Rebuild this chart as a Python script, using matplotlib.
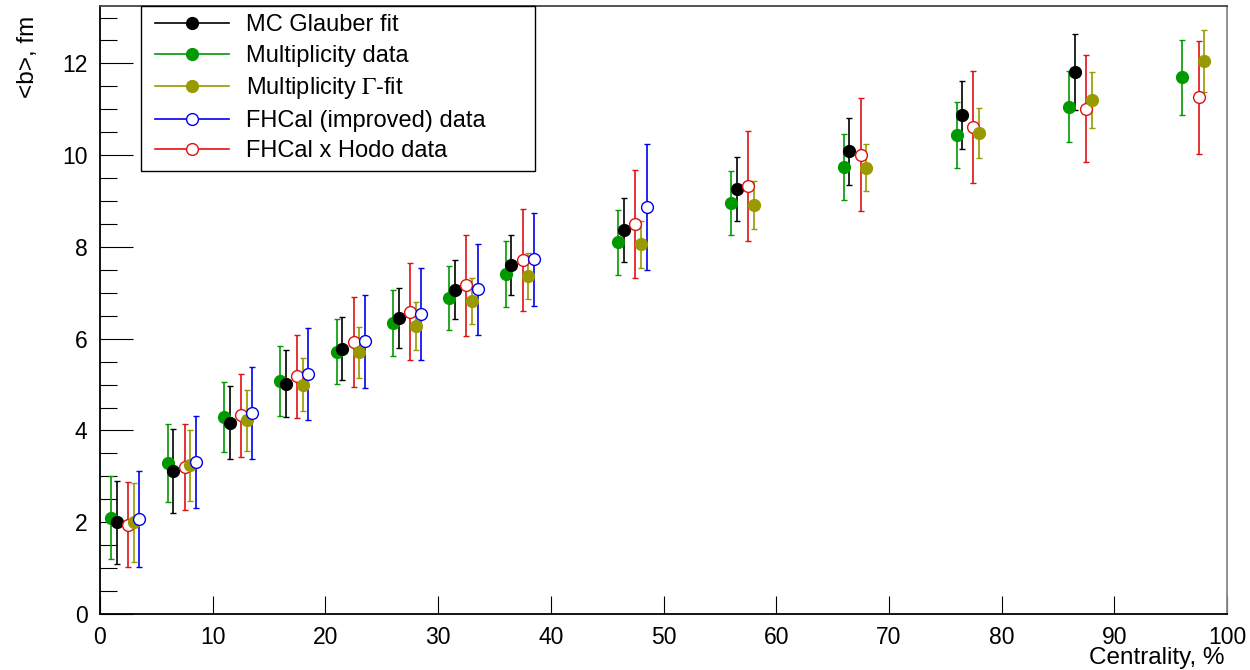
import matplotlib
matplotlib.use("Agg")
import matplotlib.pyplot as plt
from matplotlib.lines import Line2D
from matplotlib.legend_handler import HandlerLine2D
from matplotlib.ticker import MultipleLocator

plt.rcParams['font.family'] = ['Liberation Sans', 'DejaVu Sans']
plt.rcParams['mathtext.fontset'] = 'stix'

# centrality bin centres, %
cent = [2.5, 7.5, 12.5, 17.5, 22.5, 27.5, 32.5, 37.5, 47.5, 57.5, 67.5, 77.5, 87.5, 97.5]

# <b>, fm and errors for each method
glauber_b = [2.00, 3.12, 4.17, 5.02, 5.78, 6.45, 7.07, 7.61, 8.37, 9.27, 10.08, 10.88, 11.81]
glauber_err = [0.90, 0.92, 0.80, 0.73, 0.69, 0.66, 0.65, 0.66, 0.70, 0.70, 0.73, 0.74, 0.82]

mult_b = [2.10, 3.30, 4.29, 5.08, 5.72, 6.34, 6.88, 7.41, 8.10, 8.95, 9.75, 10.43, 11.06, 11.70]
mult_err = [0.90, 0.85, 0.77, 0.76, 0.71, 0.72, 0.70, 0.71, 0.71, 0.70, 0.72, 0.72, 0.77, 0.82]

gfit_b = [2.00, 3.24, 4.22, 5.00, 5.70, 6.28, 6.83, 7.36, 8.06, 8.92, 9.73, 10.48, 11.20, 12.05]
gfit_err = [0.86, 0.78, 0.66, 0.58, 0.55, 0.52, 0.50, 0.50, 0.51, 0.52, 0.52, 0.54, 0.61, 0.68]

fhcal_b = [2.07, 3.32, 4.38, 5.23, 5.94, 6.54, 7.08, 7.73, 8.87]
fhcal_err = [1.05, 1.00, 1.00, 1.00, 1.02, 1.00, 0.99, 1.02, 1.37]

hodo_b = [1.95, 3.20, 4.33, 5.18, 5.93, 6.59, 7.16, 7.72, 8.50, 9.33, 10.01, 10.62, 11.01, 11.26]
hodo_err = [0.93, 0.93, 0.90, 0.90, 0.98, 1.05, 1.10, 1.11, 1.18, 1.20, 1.23, 1.22, 1.17, 1.23]

labels = ['MC Glauber fit', 'Multiplicity data', r'Multiplicity $\Gamma$-fit',
          'FHCal (improved) data', 'FHCal x Hodo data']

# (values, errors, x shift, colour, filled) in drawing order
series = {
    'mult': (mult_b, mult_err, -1.5, '#009900', True),
    'glauber': (glauber_b, glauber_err, -1.0, 'black', True),
    'hodo': (hodo_b, hodo_err, 0.0, '#e01010', False),
    'gfit': (gfit_b, gfit_err, 0.5, '#999900', True),
    'fhcal': (fhcal_b, fhcal_err, 1.0, '#0000ee', False),
}

fig = plt.figure(figsize=(12.5, 6.7), dpi=100)
ax = fig.add_axes([0.08, 0.0836, 0.9016, 0.9074])

ms = 8.5
for key, (vals, errs, shift, col, filled) in series.items():
    xs = [c + shift for c in cent[:len(vals)]]
    ax.errorbar(xs, vals, yerr=errs, fmt='o', color=col, ms=ms,
                mfc=col if filled else 'white', mec=col, mew=1.0,
                elinewidth=1.2, capsize=2.2, capthick=1.2)

ax.set_xlim(0, 100)
ax.set_ylim(0, 13.25)
ax.xaxis.set_major_locator(MultipleLocator(10))
ax.yaxis.set_major_locator(MultipleLocator(2))
ax.yaxis.set_minor_locator(MultipleLocator(0.5))
ax.tick_params(axis='y', which='major', direction='in', length=23.5, width=0.8,
               labelsize=16.5, pad=9)
ax.tick_params(axis='y', which='minor', direction='in', length=12, width=0.8)
ax.tick_params(axis='x', which='major', direction='in', length=13, width=0.8,
               labelsize=16.5, pad=9)

for s in ['left', 'bottom']:
    ax.spines[s].set_linewidth(1.3)
    ax.spines[s].set_color('black')
ax.spines['top'].set_color('#444444')
ax.spines['right'].set_color('#888888')
ax.spines['top'].set_linewidth(1.3)
ax.spines['right'].set_linewidth(1.3)

ax.set_ylabel('<b>, fm', fontsize=17.5, loc='top')
ax.yaxis.set_label_coords(-0.054, 0.984)
ax.set_xlabel('Centrality, %', fontsize=17.5, loc='right')
ax.xaxis.set_label_coords(0.998, -0.055)

# legend entries in the ROOT style: line + marker
order = ['glauber', 'mult', 'gfit', 'fhcal', 'hodo']
handles = []
for key in order:
    vals, errs, shift, col, filled = series[key]
    handles.append(Line2D([], [], color=col, lw=1.2, marker='o', ms=ms,
                          mfc=col if filled else 'white', mec=col, mew=1.0))
leg = ax.legend(handles, labels, loc='upper left',
                bbox_to_anchor=(0.0364, 0, 0.3496, 1.0), mode='expand',
                borderaxespad=0, fontsize=17, handlelength=3.39,
                handletextpad=0.72, labelspacing=0.36, borderpad=0.35,
                fancybox=False, framealpha=1, edgecolor='black',
                handler_map={Line2D: HandlerLine2D(numpoints=1, xpad=0.25)})
leg.get_frame().set_linewidth(1.0)

fig.savefig('out.png', dpi=100)
